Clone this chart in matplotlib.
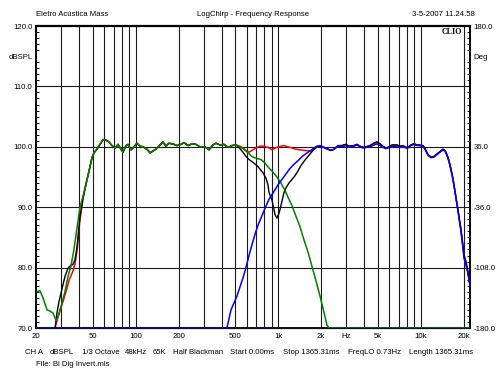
import numpy as np
import matplotlib
matplotlib.use('Agg')
import matplotlib.pyplot as plt
from matplotlib.ticker import FixedLocator, FixedFormatter, MultipleLocator

plt.rcParams['font.family'] = ['Liberation Sans', 'DejaVu Sans']

#==============================================================================
# Datos de la medicion (Hz, dBSPL)
#==============================================================================

# woofer, zona baja
wf_low_f = [20.3, 21.3, 22.4, 23.9, 25.1, 26.3, 27.6, 28.5, 29.9, 31.9, 33.5, 35.2,
            36.9, 38.8, 40.7, 42.7]
wf_low_db = [76.0, 76.2, 75.0, 73.0, 72.8, 72.5, 71.3, 71.8, 73.5, 76.0, 78.5, 80.3,
             83.0, 86.6, 90.0, 91.8]

# banda de paso comun (woofer, suma e inversion)
band_f = [44.8, 47.1, 49.4, 51.0, 53.5, 56.2, 59.0, 61.9, 65.0, 68.2, 71.6, 75.2,
          78.9, 81.5, 85.5, 88.3, 92.7, 97.3, 102.1, 107.2, 112.5, 120.0, 126.0,
          132.2, 138.8, 148.1, 155.4, 163.1, 171.2, 185.6, 194.8, 207.8, 218.1,
          232.7, 248.2, 264.8, 282.4, 306.2, 326.6, 348.4, 365.7, 390.1, 416.1,
          443.8, 473.5, 505.0]
band_db = [93.8, 96.0, 98.2, 99.0, 99.6, 100.4, 101.2, 101.1, 100.8, 100.2, 99.8,
           100.4, 99.6, 99.1, 100.2, 100.4, 99.5, 100.0, 100.6, 100.1, 100.0, 99.6,
           99.0, 99.3, 99.6, 100.3, 100.8, 100.1, 100.6, 100.4, 100.2, 100.4, 100.7,
           100.2, 100.5, 100.4, 100.0, 100.0, 99.5, 100.3, 100.6, 100.3, 100.4,
           99.9, 100.2, 100.3]

# woofer, caida del filtro pasa bajos
wf_cut_f = [538.7, 574.6, 613.0, 653.9, 697.5, 756.2, 806.7, 860.4, 917.8, 979.0,
            1044, 1114, 1188, 1247, 1330, 1419, 1513, 1615, 1723, 1838, 1961, 2091,
            2195, 2267, 22100]
wf_cut_db = [100.0, 99.6, 99.0, 98.4, 98.1, 97.9, 97.3, 96.5, 95.8, 95.0, 94.0, 92.8,
             91.3, 90.3, 88.5, 86.8, 84.6, 82.6, 80.2, 77.8, 75.3, 72.6, 70.5, 70.0,
             70.0]

# suma en fase
red_low_f = [27.2, 28.5, 30.4, 31.9, 33.0, 34.1, 36.3, 37.5, 38.8, 40.7, 42.7]
red_low_db = [70.0, 71.8, 73.8, 75.4, 76.6, 77.9, 79.4, 80.6, 82.8, 88.0, 91.3]
red_mid_f = [538.7, 565.4, 593.5, 623.0, 653.9, 697.5, 744.0, 793.7, 846.6, 903.1,
             948.0, 1011, 1096, 1169, 1247, 1330, 1419, 1538, 1668, 1780, 1868, 1961]
red_mid_db = [100.1, 99.8, 99.4, 99.1, 99.4, 99.8, 100.1, 100.1, 99.9, 99.5, 99.8,
              100.0, 100.2, 100.0, 99.8, 99.6, 99.5, 99.4, 99.3, 99.6, 100.0, 100.2]

# suma con tweeter invertido
blk_low_f = [27.2, 28.1, 29.0, 30.4, 31.9, 33.5, 35.2, 36.3, 37.5, 38.8, 40.7, 42.7]
blk_low_db = [70.0, 72.6, 74.4, 76.4, 78.5, 79.9, 80.4, 80.5, 81.3, 83.4, 88.5, 91.5]
blk_mid_f = [538.7, 565.4, 593.5, 623.0, 675.4, 720.4, 781.0, 819.7, 846.6, 860.4,
             903.1, 932.7, 948.0, 979.0, 1011, 1028, 1061, 1096, 1132, 1188, 1247,
             1309, 1374, 1442, 1538, 1642, 1751, 1868, 1961]
blk_mid_db = [99.7, 99.1, 98.4, 97.9, 97.3, 96.7, 95.7, 94.8, 93.7, 92.5, 91.2, 89.6,
              88.8, 88.2, 89.0, 89.6, 91.0, 92.4, 93.2, 94.0, 94.6, 95.2, 96.0, 96.9,
              97.8, 98.6, 99.4, 100.0, 100.2]

# tweeter, subida del pasa altos
tw_rise_f = [20.0, 436.7, 451.0, 465.9, 513.2, 538.7, 565.4, 593.5, 623.0, 653.9,
             686.4, 720.4, 768.5, 819.7, 860.4, 932.7, 994.9, 1061, 1132, 1207, 1288,
             1374, 1489, 1590, 1696, 1780, 1868, 1961, 2091, 2231, 2342, 2458]
tw_rise_db = [70.0, 70.0, 71.5, 73.0, 75.3, 76.8, 78.3, 80.0, 82.0, 83.8, 85.5, 87.0,
              88.6, 90.2, 91.3, 92.6, 93.7, 94.6, 95.5, 96.4, 97.1, 97.7, 98.5, 99.0,
              99.4, 99.8, 100.1, 100.1, 99.9, 99.6, 99.4, 99.6]

# zona alta (tweeter y sumas)
hi_f = [2621, 2796, 2983, 3131, 3394, 3562, 3739, 3925, 4120, 4395, 4688, 4920, 5164,
        5421, 5689, 5876, 6268, 6795, 7132, 7486, 7858, 8116, 8519, 8942, 9385, 9692,
        10339, 10679, 11208, 11765, 12349, 12962, 13605, 14281, 14750, 15232, 15731,
        16248, 16782, 17334, 17901, 18488, 19095, 19723, 20043, 20700, 21379, 22081]
hi_db_blue = [100.1, 100.0, 100.2, 100.0, 100.1, 100.3, 100.0, 99.8, 99.9, 100.0,
              100.3, 100.5, 100.2, 99.9, 99.7, 99.8, 100.1, 100.1, 99.9, 100.0, 99.8,
              99.8, 100.2, 100.4, 100.2, 100.2, 100.1, 99.6, 98.6, 98.2, 98.3, 98.7,
              99.1, 99.5, 99.3, 98.6, 97.6, 96.2, 94.6, 92.6, 90.5, 88.3, 86.0, 83.2,
              81.6, 80.4, 79.0, 77.0]
hi_db_red = [100.2, 100.2, 100.4, 100.1, 100.2, 100.4, 100.1, 99.9, 100.0, 100.2,
             100.6, 100.8, 100.5, 100.1, 99.8, 99.9, 100.3, 100.3, 100.1, 100.2, 99.9,
             99.9, 100.3, 100.5, 100.3, 100.3, 100.2, 99.7, 98.7, 98.3, 98.4, 98.8,
             99.2, 99.6, 99.4, 98.7, 97.7, 96.3, 94.7, 92.7, 90.6, 88.5, 86.3, 83.6,
             82.1, 81.0, 79.3, 77.2]

# series completas
green_f = wf_low_f + band_f + wf_cut_f
green_db = wf_low_db + band_db + wf_cut_db
red_f = red_low_f + band_f + red_mid_f + tw_rise_f[28:] + hi_f
red_db = red_low_db + band_db + red_mid_db + tw_rise_db[28:] + hi_db_red
black_f = blk_low_f + band_f + blk_mid_f + tw_rise_f[28:] + hi_f
black_db = blk_low_db + band_db + blk_mid_db + tw_rise_db[28:] + hi_db_red
blue_f = tw_rise_f + hi_f
blue_db = tw_rise_db + hi_db_blue

grid_f = [20, 30, 40, 50, 60, 70, 80, 90, 100, 200, 300, 400, 500, 600, 700, 800, 900,
          1000, 2000, 3000, 4000, 5000, 6000, 7000, 8000, 9000, 10000, 20000]
x_labels = {20: '20', 50: '50', 100: '100', 200: '200', 500: '500', 1000: '1k',
            2000: '2k', 3000: 'Hz', 5000: '5k', 10000: '10k', 20000: '20k'}
left_ticks = [70, 80, 90, 100, 110, 115, 120]
left_labels = ['70.0', '80.0', '90.0', '100.0', '110.0', 'dBSPL', '120.0']
right_ticks = [70, 80, 90, 100, 115, 120]
right_labels = ['-180.0', '-108.0', '-36.0', '36.0', 'Deg', '180.0']

#==============================================================================
# Grafica
#==============================================================================

W, H = 496, 372
fig = plt.figure(figsize=(W/100, H/100), dpi=100, facecolor='w')
ax = fig.add_axes([36/W, 1-328/H, (470-36)/W, (328-26)/H])
ax.set_xscale('log')
ax.set_xlim(20, 22100)
ax.set_ylim(70, 120)

for yy in [80, 90, 100, 110]:
    ax.axhline(yy, color='#1a1a1a', lw=0.8, zorder=1)
for ff in grid_f[1:]:
    ax.axvline(ff, color='#1a1a1a', lw=0.8, zorder=1)

# curvas sin recorte; el eje inferior va encima y deja ver el color en los bordes
ax.plot(red_f, red_db, color='#ff0000', lw=1.1, zorder=3, clip_on=False)
ax.plot(black_f, black_db, color='k', lw=1.0, zorder=3.05, clip_on=False)
ax.plot(green_f, green_db, color='#008000', lw=1.1, zorder=3.1, clip_on=False)
ax.plot(blue_f, blue_db, color='#0000ff', lw=1.1, zorder=3.2, clip_on=False)

ax.xaxis.set_major_locator(FixedLocator(grid_f))
ax.xaxis.set_major_formatter(FixedFormatter([x_labels.get(f, '') for f in grid_f]))
ax.xaxis.set_minor_locator(FixedLocator([]))
ax.tick_params(axis='x', length=0, pad=3.5, labelsize=5.6)

ax.yaxis.set_major_locator(FixedLocator(left_ticks))
ax.yaxis.set_major_formatter(FixedFormatter(left_labels))
ax.yaxis.set_minor_locator(MultipleLocator(1))
ax.tick_params(axis='y', which='major', length=0, pad=2.5, labelsize=5.6)
ax.tick_params(axis='y', which='minor', direction='in', length=2.2, width=0.7,
               left=True, right=True)

ax2 = ax.twinx()
ax2.set_ylim(70, 120)
ax2.yaxis.set_major_locator(FixedLocator(right_ticks))
ax2.yaxis.set_major_formatter(FixedFormatter(right_labels))
ax2.yaxis.set_minor_locator(MultipleLocator(1))
ax2.tick_params(axis='y', which='major', length=0, pad=2.5, labelsize=5.6)
ax2.tick_params(axis='y', which='minor', direction='in', length=2.2, width=0.7)
ax2.set_zorder(0)
ax.set_zorder(1)
ax.patch.set_visible(False)

for a in (ax, ax2):
    for s in a.spines.values():
        s.set_linewidth(1.3)
        s.set_color('k')
ax.spines['top'].set_linewidth(1.6)
ax.spines['bottom'].set_linewidth(0.9)
ax.spines['bottom'].set_color('#101020')
ax.spines['bottom'].set_zorder(4)

fig.text(462/W, 1-32/H, 'CLIO', ha='right', va='center', fontsize=5.8,
         family='Liberation Serif', weight='bold')

fig.text(36/W, 1-14/H, 'Eletro Acústica Mass', ha='left', va='center', fontsize=5.6)
fig.text(253/W, 1-14/H, 'LogChirp - Frequency Response', ha='center', va='center',
         fontsize=5.6)
fig.text(475/W, 1-14/H, '3-5-2007 11.24.58', ha='right', va='center', fontsize=5.6)

info = [(25, 'CH A'), (50, 'dBSPL'), (82, '1/3 Octave'), (125, '48kHz'), (153, '65K'),
        (173, 'Half Blackman'), (230, 'Start 0.00ms'), (283, 'Stop 1365.31ms'),
        (348, 'FreqLO 0.73Hz'), (409, 'Length 1365.31ms')]
for xp, txt in info:
    fig.text(xp/W, 1-352/H, txt, ha='left', va='center', fontsize=5.6)
fig.text(36/W, 1-365/H, 'File: Bi Dig Invert.mls', ha='left', va='center', fontsize=5.6)

fig.savefig('out.png', dpi=100, facecolor='w')
